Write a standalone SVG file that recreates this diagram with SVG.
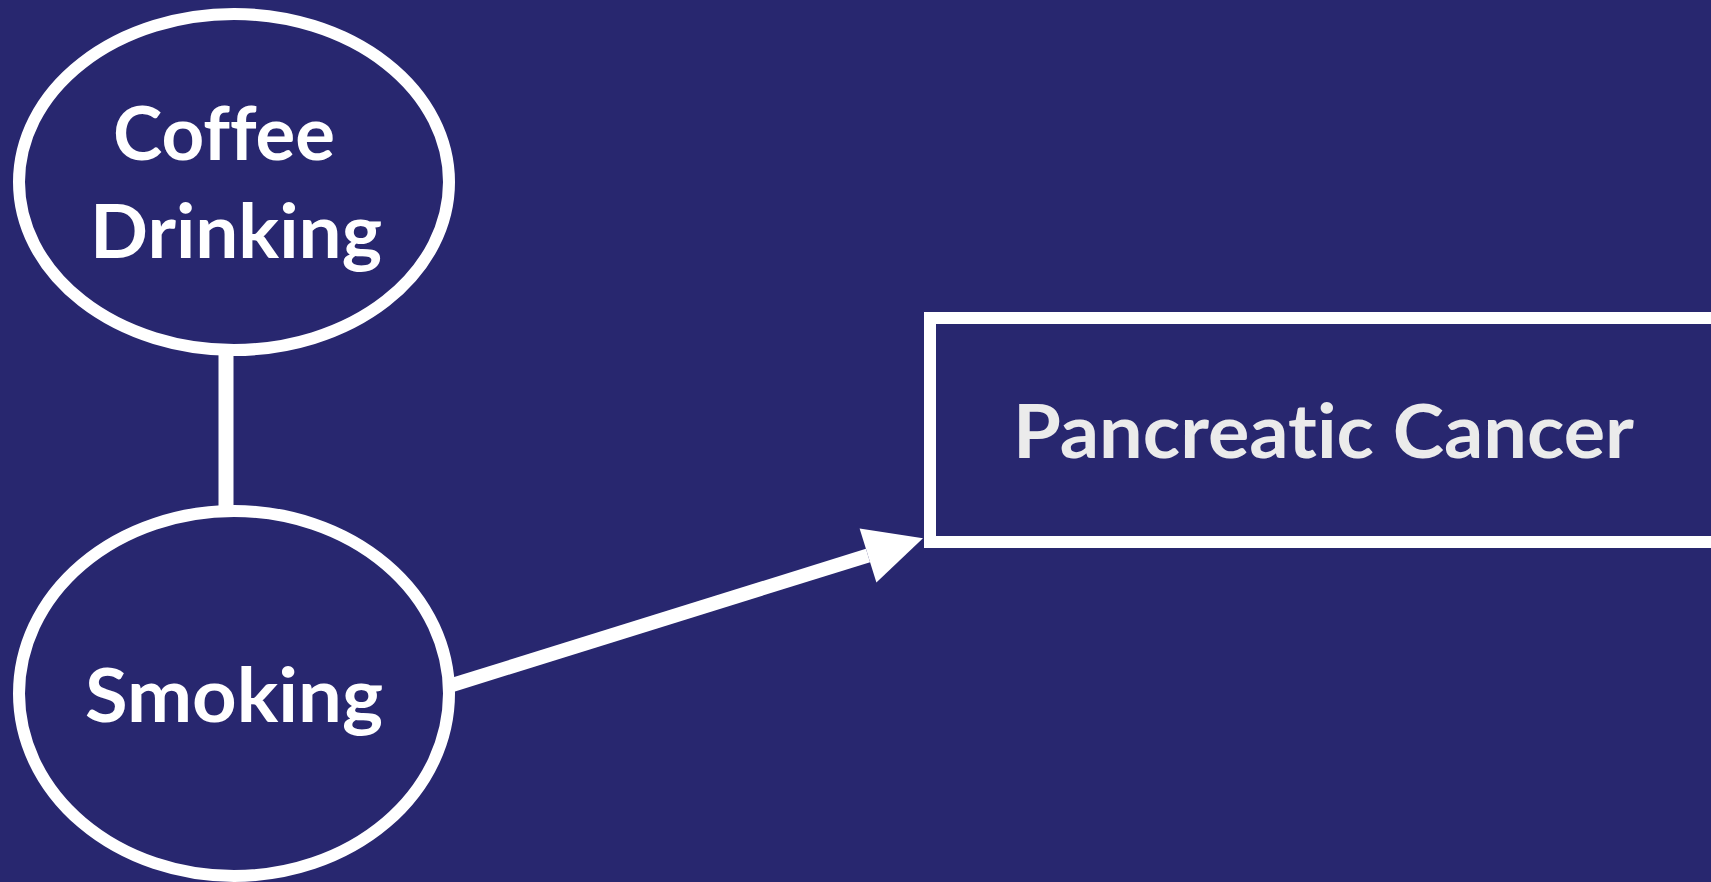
<svg xmlns="http://www.w3.org/2000/svg" width="1711" height="882" viewBox="0 0 1711 882">
<style>
  .node { fill: #28276f; stroke: #ffffff; stroke-width: 12; }
  .lbl { font-family: Lato, "Open Sans", "Liberation Sans", sans-serif; font-weight: 700; font-size: 75px; fill: #ffffff; text-anchor: middle; font-variant-ligatures: none; font-feature-settings: "liga" 0, "clig" 0, "dlig" 0; }
  .lbl2 { fill: #ebebeb; }
  .edge { stroke: #ffffff; fill: none; }
</style>
<defs>
  <marker id="arrow" markerUnits="userSpaceOnUse" orient="auto" refX="0" refY="0" markerWidth="60" markerHeight="60" viewBox="-1 -25 50 50" overflow="visible">
    <path d="M0,-23.5 L48,0 L0,23.5 z" fill="#ffffff"/>
  </marker>
</defs>
<rect x="0" y="0" width="1711" height="882" fill="#28276f"/>
<g id="connectors">
  <line class="edge" x1="226" y1="350" x2="226" y2="506" stroke-width="15"/>
  <line class="edge" x1="449" y1="686" x2="868" y2="555.5" stroke-width="14" marker-end="url(#arrow)"/>
</g>
<g id="coffee">
  <ellipse class="node" cx="234" cy="182" rx="215" ry="168"/>
  <text class="lbl" x="224" y="160" textLength="222" lengthAdjust="spacingAndGlyphs">Coffee</text>
  <text class="lbl" x="236" y="258" textLength="292" lengthAdjust="spacingAndGlyphs">Drinking</text>
</g>
<g id="smoking">
  <ellipse class="node" cx="234" cy="693.5" rx="215" ry="182.5"/>
  <text class="lbl" x="234" y="722" textLength="298" lengthAdjust="spacingAndGlyphs">Smoking</text>
</g>
<g id="cancer">
  <rect class="node" x="930" y="318" width="790" height="224"/>
  <text class="lbl lbl2" x="1323.5" y="458" textLength="621" lengthAdjust="spacingAndGlyphs">Pancreatic Cancer</text>
</g>
</svg>
